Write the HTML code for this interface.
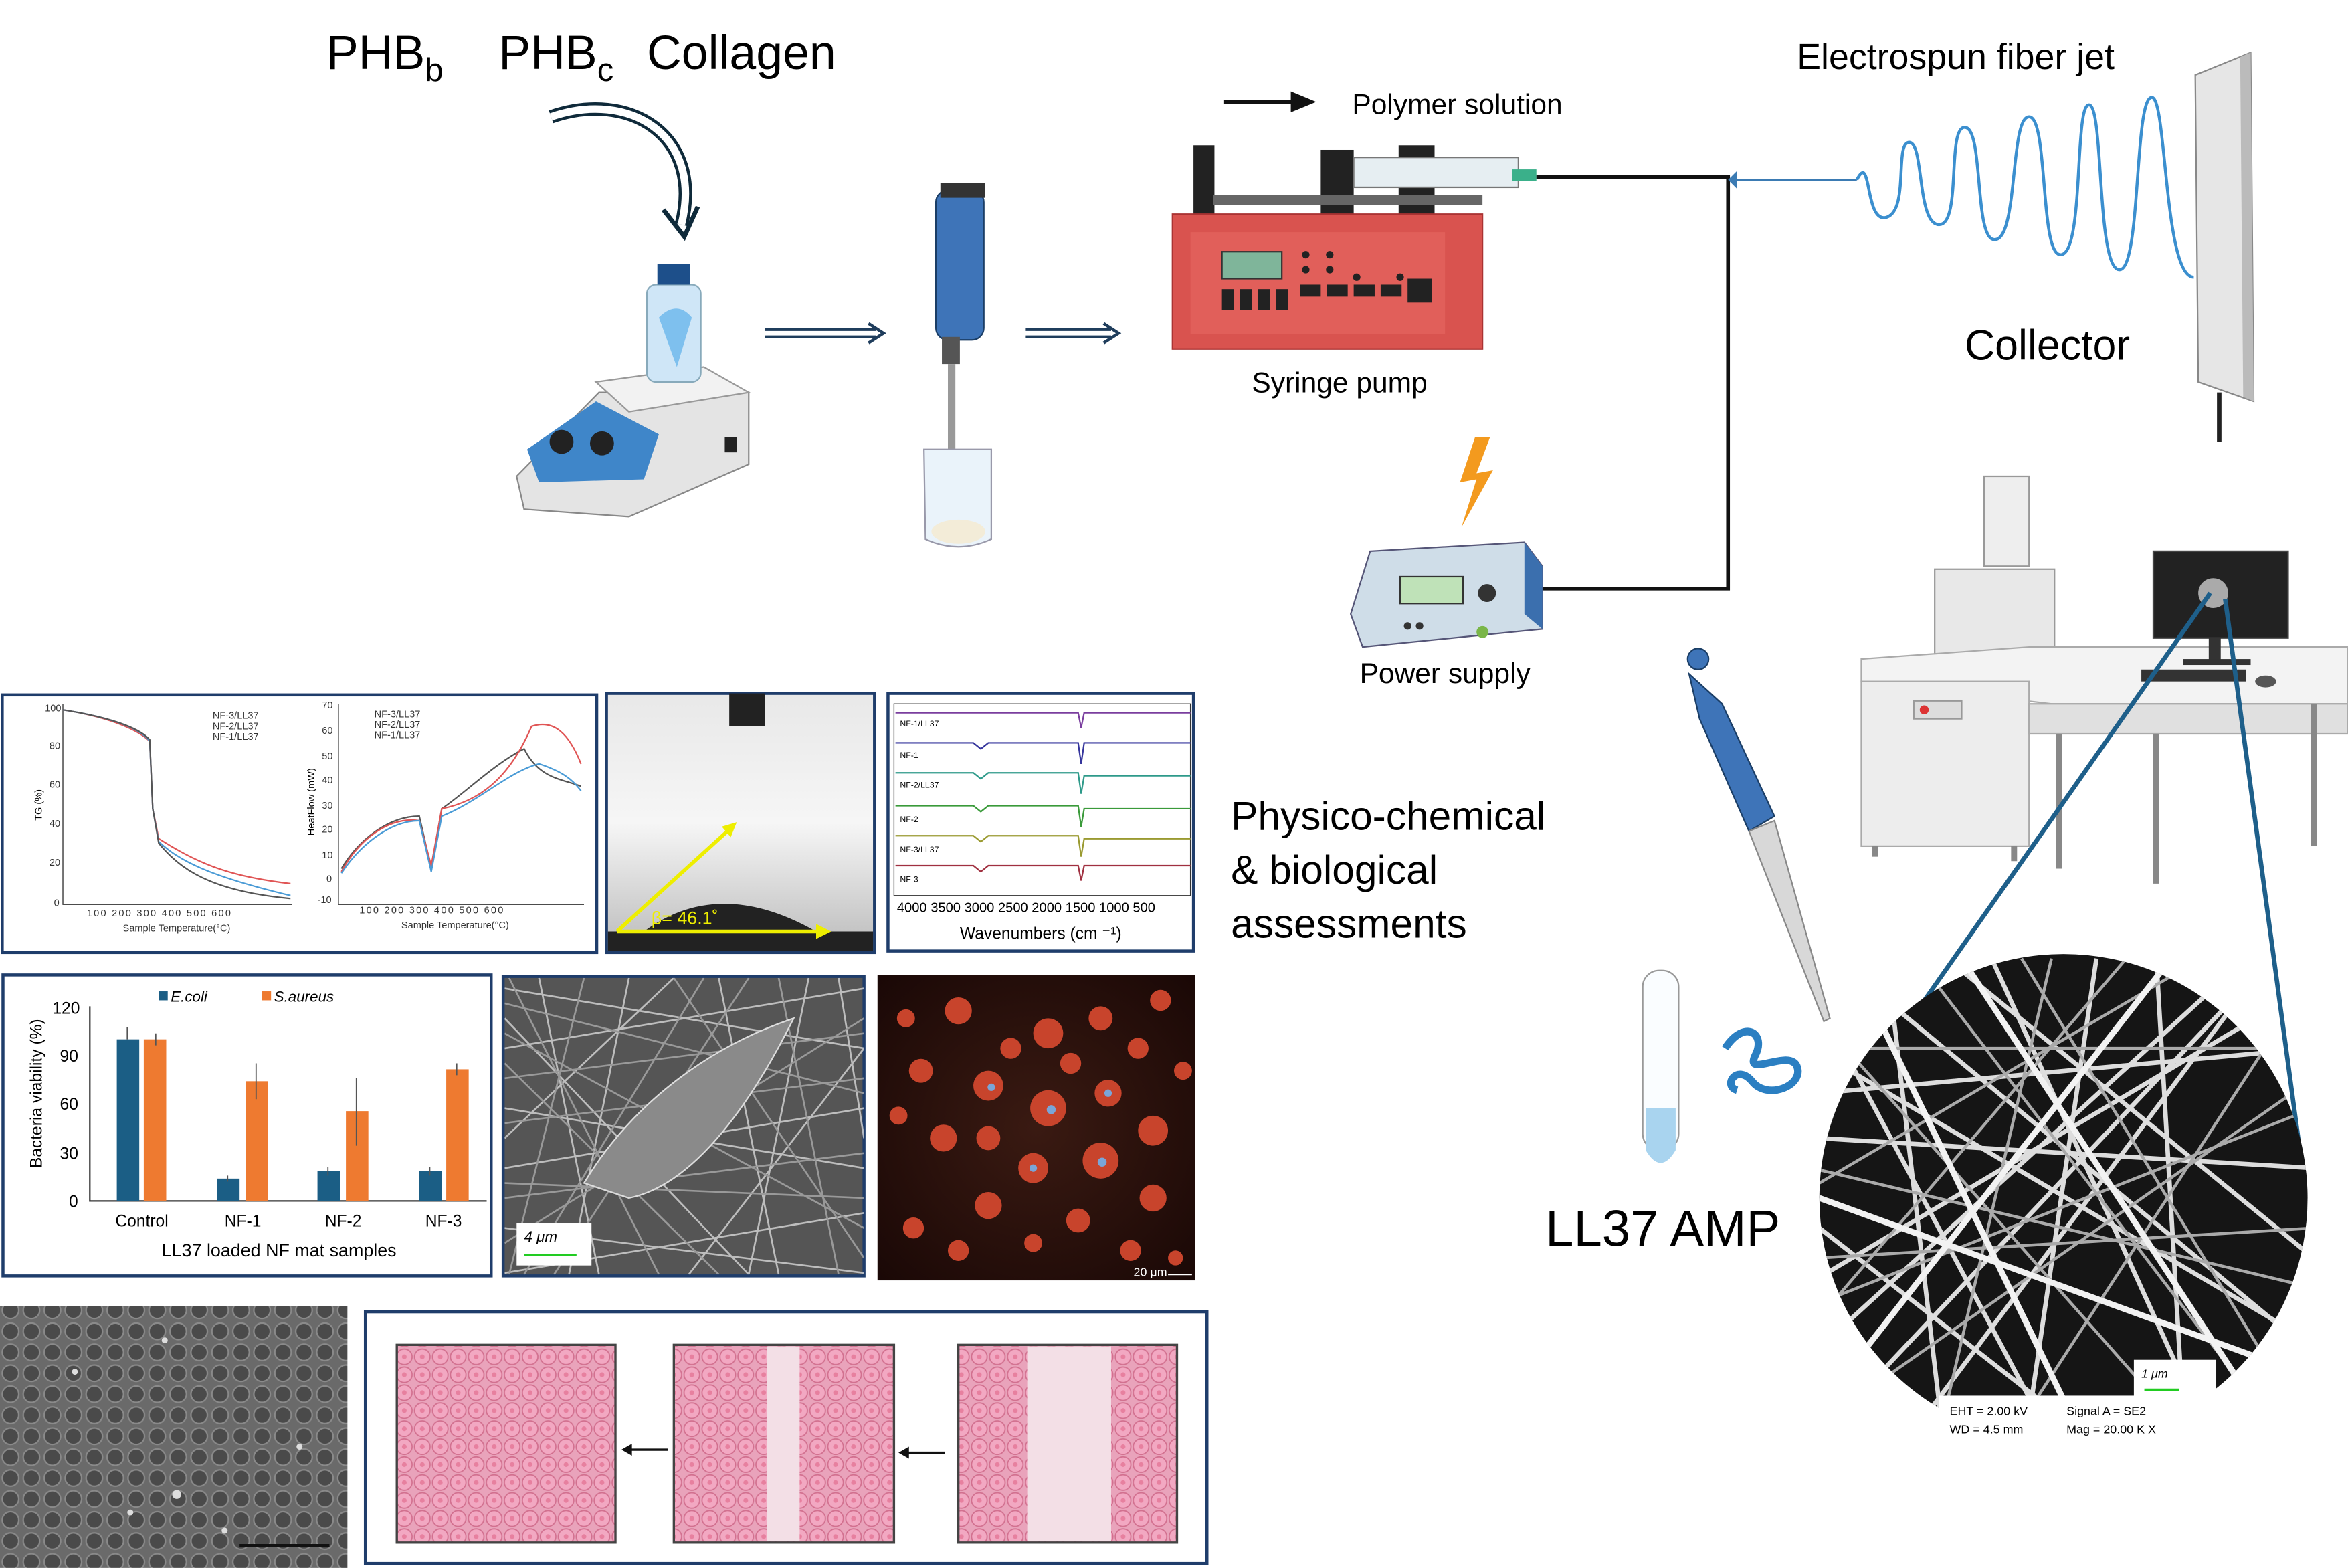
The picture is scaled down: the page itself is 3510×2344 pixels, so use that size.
<!DOCTYPE html>
<html><head><meta charset="utf-8"><style>
html,body{margin:0;padding:0;background:#fff}
svg{display:block}
text{font-family:"Liberation Sans",sans-serif}
</style></head><body>
<svg width="3510" height="2344" viewBox="0 0 1568 1047" xmlns="http://www.w3.org/2000/svg">
<defs>
<pattern id="cells" width="12" height="12" patternUnits="userSpaceOnUse">
<rect width="12" height="12" fill="#e9a3bb"/>
<circle cx="6" cy="6" r="5.2" fill="#f2a8c2" stroke="#d2708f" stroke-width="0.8"/>
<circle cx="6" cy="6" r="1.6" fill="#e7809f"/>
</pattern>
<pattern id="phase" width="14" height="14" patternUnits="userSpaceOnUse">
<rect width="14" height="14" fill="#6a6a6a"/>
<circle cx="7" cy="7" r="5.5" fill="#4a4a4a" stroke="#8a8a8a" stroke-width="1"/>
</pattern>
<linearGradient id="cag" x1="0" y1="0" x2="0" y2="1"><stop offset="0" stop-color="#e8e8e8"/><stop offset="0.5" stop-color="#f6f6f6"/><stop offset="1" stop-color="#bbb"/></linearGradient>
<radialGradient id="fl" cx="0.5" cy="0.5" r="0.7"><stop offset="0" stop-color="#3a1a12"/><stop offset="1" stop-color="#1a0806"/></radialGradient>
<clipPath id="cc"><circle cx="1378" cy="800" r="163"/></clipPath>
<clipPath id="semc"><rect x="337" y="653" width="240" height="198"/></clipPath>
</defs>

<!-- Title -->
<text x="218" y="46" font-size="32">PHB<tspan font-size="22" dy="8">b</tspan></text>
<text x="333" y="46" font-size="32">PHB<tspan font-size="22" dy="8">c</tspan></text>
<text x="432" y="46" font-size="32">Collagen</text>
<path d="M368 78 C420 60 470 90 455 150" fill="none" stroke="#0f2a3a" stroke-width="9"/>
<path d="M368 78 C420 60 470 90 455 150" fill="none" stroke="#fff" stroke-width="5"/>
<path d="M443 140 L457 158 L466 138" fill="none" stroke="#0f2a3a" stroke-width="3"/>

<!-- Stirrer -->
<path d="M345 318 L400 262 L500 262 L500 310 L420 345 L350 340 Z" fill="#e4e4e4" stroke="#888"/>
<path d="M352 300 L398 268 L440 290 L430 320 L360 322 Z" fill="#3f86c9"/>
<circle cx="375" cy="295" r="8" fill="#222"/><circle cx="402" cy="296" r="8" fill="#222"/>
<rect x="484" y="292" width="8" height="10" fill="#222"/>
<path d="M398 255 L470 245 L500 262 L420 275 Z" fill="#f2f2f2" stroke="#999"/>
<rect x="432" y="190" width="36" height="65" rx="6" fill="#cfe6f7" stroke="#8ab"/>
<rect x="439" y="176" width="22" height="14" fill="#1d4f8a"/>
<path d="M440 212 Q452 200 462 212 L452 245 Z" fill="#7ec0ee"/>

<!-- arrows -->
<g stroke="#1f3d5c" stroke-width="2" fill="none">
<path d="M511 220 H585 M511 225 H585 M580 216 L590 222.5 L580 229"/>
<path d="M685 220 H742 M685 225 H742 M737 216 L747 222.5 L737 229"/>
</g>

<!-- homogenizer -->
<rect x="625" y="127" width="32" height="100" rx="8" fill="#3e74b8" stroke="#1b3e66"/>
<rect x="628" y="122" width="30" height="10" fill="#333"/>
<rect x="629" y="225" width="12" height="18" fill="#555"/>
<rect x="633" y="243" width="5" height="80" fill="#999"/>
<path d="M617 300 H662 V360 Q640 370 618 360 Z" fill="#eaf3fa" stroke="#99a"/>
<ellipse cx="640" cy="355" rx="18" ry="8" fill="#f3ecd8"/>

<!-- polymer solution -->
<path d="M817 68 H868" stroke="#111" stroke-width="3"/><path d="M862 61 L879 68 L862 75 Z" fill="#111"/>
<text x="903" y="76" font-size="19">Polymer solution</text>

<!-- syringe pump -->
<rect x="797" y="97" width="14" height="48" fill="#222"/>
<rect x="882" y="100" width="22" height="45" fill="#222"/>
<rect x="934" y="97" width="24" height="48" fill="#222"/>
<rect x="810" y="130" width="180" height="7" fill="#666"/>
<rect x="904" y="105" width="110" height="20" fill="#e6eef2" stroke="#777"/>
<rect x="1010" y="113" width="16" height="8" fill="#3ab08a"/>
<rect x="783" y="143" width="207" height="90" fill="#d9534f" stroke="#a33"/>
<rect x="795" y="155" width="170" height="68" fill="#e15f5a"/>
<rect x="816" y="168" width="40" height="18" fill="#7fb59a" stroke="#333"/>
<g fill="#222"><rect x="816" y="193" width="8" height="14"/><rect x="828" y="193" width="8" height="14"/><rect x="840" y="193" width="8" height="14"/><rect x="852" y="193" width="8" height="14"/>
<rect x="868" y="190" width="14" height="8"/><rect x="886" y="190" width="14" height="8"/><rect x="904" y="190" width="14" height="8"/><rect x="922" y="190" width="14" height="8"/><rect x="940" y="186" width="16" height="16"/>
<circle cx="872" cy="170" r="2.5"/><circle cx="872" cy="180" r="2.5"/><circle cx="888" cy="170" r="2.5"/><circle cx="888" cy="180" r="2.5"/><circle cx="906" cy="185" r="2.5"/><circle cx="935" cy="185" r="2.5"/></g>
<text x="836" y="262" font-size="19">Syringe pump</text>

<!-- wires -->
<path d="M1026 118 H1154 V393 H1030" fill="none" stroke="#111" stroke-width="2.5"/>
<path d="M1154 120 L1160 114 L1160 126 Z" fill="#3b7bb3"/>
<path d="M1160 120 H1240" stroke="#3b7bb3" stroke-width="1.2"/>
<path d="M1240 120 C1250 100 1245 150 1260 145 C1275 140 1265 95 1275 95 C1285 95 1280 150 1295 150 C1310 150 1300 85 1312 85 C1325 85 1318 160 1332 160 C1348 160 1342 78 1355 78 C1368 78 1362 170 1376 170 C1392 170 1385 70 1395 70 C1405 70 1400 178 1415 180 C1430 182 1425 65 1437 65 C1447 65 1445 185 1465 185" fill="none" stroke="#3b8fcf" stroke-width="2"/>
<text x="1200" y="46" font-size="24">Electrospun fiber jet</text>

<!-- collector -->
<path d="M1466 50 L1503 35 L1505 268 L1468 255 Z" fill="#e6e6e6" stroke="#888"/>
<path d="M1496 38 L1503 35 L1505 268 L1498 265 Z" fill="#bbb"/>
<path d="M1482 262 V295" stroke="#222" stroke-width="3"/>
<text x="1312" y="240" font-size="28">Collector</text>

<!-- lightning -->
<path d="M985 292 L975 322 L986 320 L976 352 L997 314 L986 316 L995 292 Z" fill="#f39a1e"/>

<!-- power supply -->
<path d="M902 410 L915 368 L1018 362 L1030 378 L1030 420 L910 432 Z" fill="#cfdde8" stroke="#557"/>
<path d="M1018 362 L1030 378 L1030 420 L1018 410 Z" fill="#3b6fae"/>
<rect x="935" y="385" width="42" height="18" fill="#bfe2b8" stroke="#333"/>
<circle cx="993" cy="396" r="6" fill="#333"/><circle cx="990" cy="422" r="4" fill="#7ab648"/>
<circle cx="940" cy="418" r="2.5" fill="#333"/><circle cx="948" cy="418" r="2.5" fill="#333"/>
<text x="908" y="456" font-size="19">Power supply</text>

<!-- SEM machine -->
<rect x="1325" y="318" width="30" height="60" fill="#eee" stroke="#999"/>
<rect x="1292" y="380" width="80" height="60" fill="#e8e8e8" stroke="#999"/>
<path d="M1243 440 L1355 432 L1568 432 L1568 470 L1370 470 L1243 455 Z" fill="#f3f3f3" stroke="#aaa"/>
<rect x="1243" y="455" width="112" height="110" fill="#ededed" stroke="#aaa"/>
<rect x="1355" y="470" width="213" height="20" fill="#e0e0e0" stroke="#aaa"/>
<rect x="1278" y="468" width="32" height="12" fill="#ddd" stroke="#999"/><circle cx="1285" cy="474" r="3" fill="#d33"/>
<g stroke="#888" stroke-width="4"><path d="M1252 565 V572 M1345 565 V575 M1375 490 V580 M1440 490 V590 M1545 470 V565"/></g>
<rect x="1438" y="368" width="90" height="58" fill="#222" stroke="#444"/>
<rect x="1475" y="426" width="8" height="15" fill="#333"/><rect x="1458" y="440" width="45" height="4" fill="#333"/>
<rect x="1430" y="447" width="70" height="8" fill="#333"/><ellipse cx="1513" cy="455" rx="7" ry="4" fill="#555"/>
<circle cx="1478" cy="396" r="10" fill="#aaa"/>
<path d="M1476 396 L1250 718 M1486 400 L1535 762" stroke="#1e5f8a" stroke-width="3"/>

<!-- pipette -->
<path d="M1128 450 L1150 470 L1185 545 L1168 555 L1135 480 Z" fill="#3e74b8" stroke="#1b3e66"/>
<circle cx="1134" cy="440" r="7" fill="#3e74b8" stroke="#1b3e66"/>
<path d="M1168 555 L1185 548 L1222 680 L1218 682 Z" fill="#d8d8d8" stroke="#888"/>
<!-- tube -->
<rect x="1097" y="648" width="24" height="120" rx="11" fill="#fafdff" stroke="#999"/>
<path d="M1099 740 H1119 V768 Q1109 785 1099 768 Z" fill="#a9d4ef"/>
<path d="M1152 700 C1165 680 1180 690 1172 705 C1165 720 1195 700 1200 712 C1205 725 1180 735 1170 722 C1160 710 1150 725 1160 728" fill="none" stroke="#2b7fc2" stroke-width="5"/>
<text x="1032" y="832" font-size="34">LL37 AMP</text>

<!-- SEM circle -->
<circle cx="1378" cy="800" r="163" fill="#151515"/>
<g clip-path="url(#cc)" stroke="#ddd" stroke-width="3" fill="none">
<path d="M1210 700 L1550 900 M1220 850 L1540 660 M1260 640 L1300 980 M1330 640 L1480 970 M1400 640 L1350 980 M1215 760 L1545 780 M1215 900 L1500 640 M1250 660 L1540 900 M1440 640 L1460 980 M1215 820 L1420 980 M1300 640 L1545 840 M1220 680 L1380 980 M1500 660 L1260 980 M1215 730 L1545 700 M1215 960 L1545 610"/>
<path d="M1210 780 L1545 860 M1280 640 L1540 980 M1215 870 L1545 740 M1370 640 L1290 980 M1520 700 L1230 700 M1215 840 L1545 820 M1350 640 L1545 960 M1215 680 L1480 980 M1420 640 L1215 880 M1545 650 L1330 980 M1230 940 L1545 720 M1215 790 L1470 640" stroke-width="2" stroke="#aaa"/>
<path d="M1240 650 L1400 980 M1450 640 L1215 940 M1215 800 L1545 920 M1310 640 L1520 960" stroke-width="4" stroke="#f2f2f2"/>
</g>
<rect x="1295" y="932" width="190" height="35" fill="#fff"/>
<rect x="1425" y="908" width="55" height="25" fill="#fff"/>
<text x="1430" y="920" font-size="8" font-style="italic">1 μm</text>
<path d="M1432 928 H1455" stroke="#2c2" stroke-width="1.5"/>
<text x="1302" y="945" font-size="8">EHT =  2.00 kV</text><text x="1380" y="945" font-size="8">Signal A = SE2</text>
<text x="1302" y="957" font-size="8">WD =  4.5 mm</text><text x="1380" y="957" font-size="8">Mag =   20.00 K X</text>

<text x="822" y="554" font-size="27">Physico-chemical</text>
<text x="822" y="590" font-size="27">&amp; biological</text>
<text x="822" y="626" font-size="27">assessments</text>

<!-- Panel TGA/DSC -->
<rect x="1.5" y="464" width="397" height="172" fill="#fff" stroke="#1f3d6b" stroke-width="2"/>
<g stroke="#333" stroke-width="0.6" fill="none"><path d="M42 470 V604 H195"/><path d="M226 470 V604 H390"/></g>
<path d="M42 474 C80 480 95 490 100 495 L102 540 L106 560 C130 575 150 585 194 590" stroke="#e05555" fill="none"/>
<path d="M42 474 C80 480 95 488 100 495 L102 540 L106 562 C120 575 140 585 194 598" stroke="#4a9bd6" fill="none"/>
<path d="M42 474 C80 480 95 488 100 494 L102 540 L106 563 C120 580 140 595 194 600" stroke="#555" fill="none"/>
<path d="M228 580 C240 560 260 545 280 545 L288 580 L295 540 C310 530 330 510 350 500 C360 520 375 520 388 525" stroke="#555" fill="none"/>
<path d="M228 582 C240 560 260 545 280 548 L288 578 L295 540 C320 535 340 520 355 485 C370 480 380 490 388 510" stroke="#e05555" fill="none"/>
<path d="M228 583 C240 565 260 548 280 548 L288 582 L295 545 C320 535 340 515 360 510 C375 515 382 520 388 528" stroke="#4a9bd6" fill="none"/>
<g font-size="6.5" fill="#333"><text x="142" y="480">NF-3/LL37</text><text x="142" y="487">NF-2/LL37</text><text x="142" y="494">NF-1/LL37</text>
<text x="250" y="479">NF-3/LL37</text><text x="250" y="486">NF-2/LL37</text><text x="250" y="493">NF-1/LL37</text>
<text x="82" y="622">Sample Temperature(°C)</text><text x="268" y="620">Sample Temperature(°C)</text>
<text x="58" y="612" letter-spacing="1">100   200   300   400   500   600</text><text x="240" y="610" letter-spacing="1">100   200   300   400   500   600</text>
<text x="30" y="475">100</text><text x="33" y="500">80</text><text x="33" y="526">60</text><text x="33" y="552">40</text><text x="33" y="578">20</text><text x="36" y="605">0</text>
<text x="215" y="473">70</text><text x="215" y="490">60</text><text x="215" y="507">50</text><text x="215" y="523">40</text><text x="215" y="540">30</text><text x="215" y="556">20</text><text x="215" y="573">10</text><text x="218" y="589">0</text><text x="212" y="603">-10</text></g>
<text transform="translate(28 548) rotate(-90)" font-size="6.5">TG (%)</text>
<text transform="translate(210 558) rotate(-90)" font-size="6.5">HeatFlow (mW)</text>

<!-- contact angle -->
<rect x="405" y="463" width="179" height="173" fill="url(#cag)" stroke="#1f3d6b" stroke-width="2"/>
<rect x="487" y="463" width="24" height="22" fill="#222"/>
<rect x="406" y="622" width="177" height="13" fill="#222"/>
<path d="M430 622 Q480 585 545 622 Z" fill="#222"/>
<path d="M412 622 H550" stroke="#ee0" stroke-width="2.5"/><path d="M545 617 L555 622 L545 627 Z" fill="#ee0"/>
<path d="M412 622 L488 553" stroke="#ee0" stroke-width="2.5"/><path d="M482 552 L492 549 L488 559 Z" fill="#ee0"/>
<text x="435" y="617" font-size="12" fill="#ee0">β= 46.1˚</text>

<!-- FTIR -->
<rect x="593" y="463" width="204" height="172" fill="#fff" stroke="#1f3d6b" stroke-width="2"/>
<rect x="597" y="470" width="198" height="128" fill="none" stroke="#333" stroke-width="0.6"/>
<g fill="none" stroke-width="1">
<path d="M598 476 H720 L722 486 L724 476 H795" stroke="#7a3e9e"/>
<path d="M598 496 H650 L655 500 L660 496 H720 L722 510 L724 496 H795" stroke="#35359c"/>
<path d="M598 516 H650 L655 520 L660 516 H720 L722 530 L724 518 H795" stroke="#2e9a8a"/>
<path d="M598 538 H650 L655 542 L660 538 H720 L722 552 L724 540 H795" stroke="#3a9a3a"/>
<path d="M598 558 H650 L655 562 L660 558 H720 L722 572 L724 560 H795" stroke="#9a9a30"/>
<path d="M598 578 H650 L655 582 L660 578 H720 L722 588 L724 578 H795" stroke="#a03040"/>
</g>
<g font-size="5.5"><text x="601" y="485">NF-1/LL37</text><text x="601" y="506">NF-1</text><text x="601" y="526">NF-2/LL37</text><text x="601" y="549">NF-2</text><text x="601" y="569">NF-3/LL37</text><text x="601" y="589">NF-3</text></g>
<text x="599" y="609" font-size="9">4000  3500  3000  2500  2000  1500  1000  500</text>
<text x="641" y="627" font-size="11">Wavenumbers (cm ⁻¹)</text>

<!-- bar chart -->
<rect x="2" y="651" width="326" height="201" fill="#fff" stroke="#1f3d6b" stroke-width="2"/>
<path d="M60 672 V802 H325" stroke="#333" fill="none"/>
<g font-size="11"><text x="35" y="677">120</text><text x="40" y="709">90</text><text x="40" y="741">60</text><text x="40" y="774">30</text><text x="46" y="806">0</text></g>
<text transform="translate(28 780) rotate(-90)" font-size="11">Bacteria viability (%)</text>
<g fill="#1b5e85"><rect x="78" y="694" width="15" height="108"/><rect x="145" y="787" width="15" height="15"/><rect x="212" y="782" width="15" height="20"/><rect x="280" y="782" width="15" height="20"/></g>
<g fill="#ee7a30"><rect x="96" y="694" width="15" height="108"/><rect x="164" y="722" width="15" height="80"/><rect x="231" y="742" width="15" height="60"/><rect x="298" y="714" width="15" height="88"/></g>
<g stroke="#555" stroke-width="0.8"><path d="M85 686 V694 M104 690 V698 M171 710 V734 M238 720 V765 M305 710 V718 M152 785 V789 M219 779 V785 M287 779 V785"/></g>
<g font-size="11"><text x="77" y="819">Control</text><text x="150" y="819">NF-1</text><text x="217" y="819">NF-2</text><text x="284" y="819">NF-3</text></g>
<text x="108" y="839" font-size="12">LL37 loaded NF mat samples</text>
<rect x="106" y="662" width="6" height="6" fill="#1b5e85"/><text x="114" y="669" font-size="10" font-style="italic">E.coli</text>
<rect x="175" y="662" width="6" height="6" fill="#ee7a30"/><text x="183" y="669" font-size="10" font-style="italic">S.aureus</text>

<!-- SEM cell -->
<rect x="336" y="652" width="241" height="200" fill="#555" stroke="#1f3d6b" stroke-width="2"/>
<g clip-path="url(#semc)" stroke="#d8d8d8" stroke-width="1.2" fill="none" opacity="0.8">
<path d="M337 660 L577 700 M337 700 L577 660 M337 740 L577 780 M337 780 L577 740 M337 820 L577 850 M337 850 L577 810 M360 653 L400 851 M420 653 L380 851 M480 653 L520 851 M540 653 L500 851 M560 653 L577 760 M337 760 L450 653 M460 851 L577 700 M337 680 L500 851"/>
<path d="M337 670 L577 730 M337 720 L577 690 M337 800 L577 770 M340 653 L440 851 M470 653 L350 851 M520 653 L560 851 M337 690 L577 820 M337 830 L577 680 M390 653 L340 851 M450 653 L577 840 M337 710 L480 851 M500 653 L370 851 M337 790 L577 800 M337 750 L577 720" stroke="#aaa"/>
</g>
<path d="M390 790 C420 740 470 700 530 680 C510 720 470 790 420 800 Z" fill="#8a8a8a" stroke="#ddd"/>
<rect x="345" y="817" width="50" height="28" fill="#fff"/>
<text x="350" y="829" font-size="10" font-style="italic">4 μm</text><path d="M350 838 H385" stroke="#2c2" stroke-width="1.5"/>

<!-- fluorescence -->
<rect x="586" y="651" width="212" height="204" fill="url(#fl)"/>
<g fill="#c8442c">
<circle cx="640" cy="675" r="9"/><circle cx="700" cy="690" r="10"/><circle cx="735" cy="680" r="8"/><circle cx="775" cy="668" r="7"/><circle cx="615" cy="715" r="8"/><circle cx="660" cy="725" r="10"/><circle cx="700" cy="740" r="12"/><circle cx="740" cy="730" r="9"/><circle cx="770" cy="755" r="10"/><circle cx="630" cy="760" r="9"/><circle cx="690" cy="780" r="10"/><circle cx="735" cy="775" r="12"/><circle cx="660" cy="805" r="9"/><circle cx="720" cy="815" r="8"/><circle cx="770" cy="800" r="9"/><circle cx="610" cy="820" r="7"/><circle cx="755" cy="835" r="7"/><circle cx="790" cy="715" r="6"/><circle cx="675" cy="700" r="7"/><circle cx="605" cy="680" r="6"/>
<circle cx="660" cy="760" r="8"/><circle cx="715" cy="710" r="7"/><circle cx="760" cy="700" r="7"/><circle cx="640" cy="835" r="7"/><circle cx="690" cy="830" r="6"/><circle cx="600" cy="745" r="6"/><circle cx="785" cy="840" r="5"/>
</g>
<g fill="#7aa5d8"><circle cx="702" cy="741" r="3"/><circle cx="736" cy="776" r="3"/><circle cx="662" cy="726" r="2.5"/><circle cx="690" cy="780" r="2.5"/><circle cx="740" cy="730" r="2.5"/></g>
<text x="757" y="852" font-size="8" fill="#fff">20 μm</text><path d="M780 851 H796" stroke="#fff"/>

<!-- phase contrast -->
<rect x="0" y="872" width="232" height="175" fill="url(#phase)"/>
<g fill="#ddd"><circle cx="50" cy="916" r="2"/><circle cx="118" cy="998" r="3"/><circle cx="87" cy="1010" r="2"/><circle cx="200" cy="966" r="2"/><circle cx="150" cy="1022" r="2"/><circle cx="110" cy="895" r="2"/></g>
<path d="M160 1032 H220" stroke="#111" stroke-width="2"/>

<!-- scratch panel -->
<rect x="244" y="876" width="562" height="168" fill="#fff" stroke="#1f3d6b" stroke-width="2"/>
<rect x="265" y="898" width="146" height="132" fill="url(#cells)" stroke="#444" stroke-width="1.5"/>
<rect x="450" y="898" width="147" height="132" fill="url(#cells)" stroke="#444" stroke-width="1.5"/>
<rect x="512" y="899" width="22" height="130" fill="#f3dfe6"/>
<rect x="640" y="898" width="146" height="132" fill="url(#cells)" stroke="#444" stroke-width="1.5"/>
<rect x="686" y="899" width="56" height="130" fill="#f3dfe6"/>
<path d="M446 968 H420" stroke="#111" stroke-width="1.5"/><path d="M422 964 L415 968 L422 972 Z" fill="#111"/>
<path d="M631 970 H605" stroke="#111" stroke-width="1.5"/><path d="M607 966 L600 970 L607 974 Z" fill="#111"/>
</svg>
</body></html>
